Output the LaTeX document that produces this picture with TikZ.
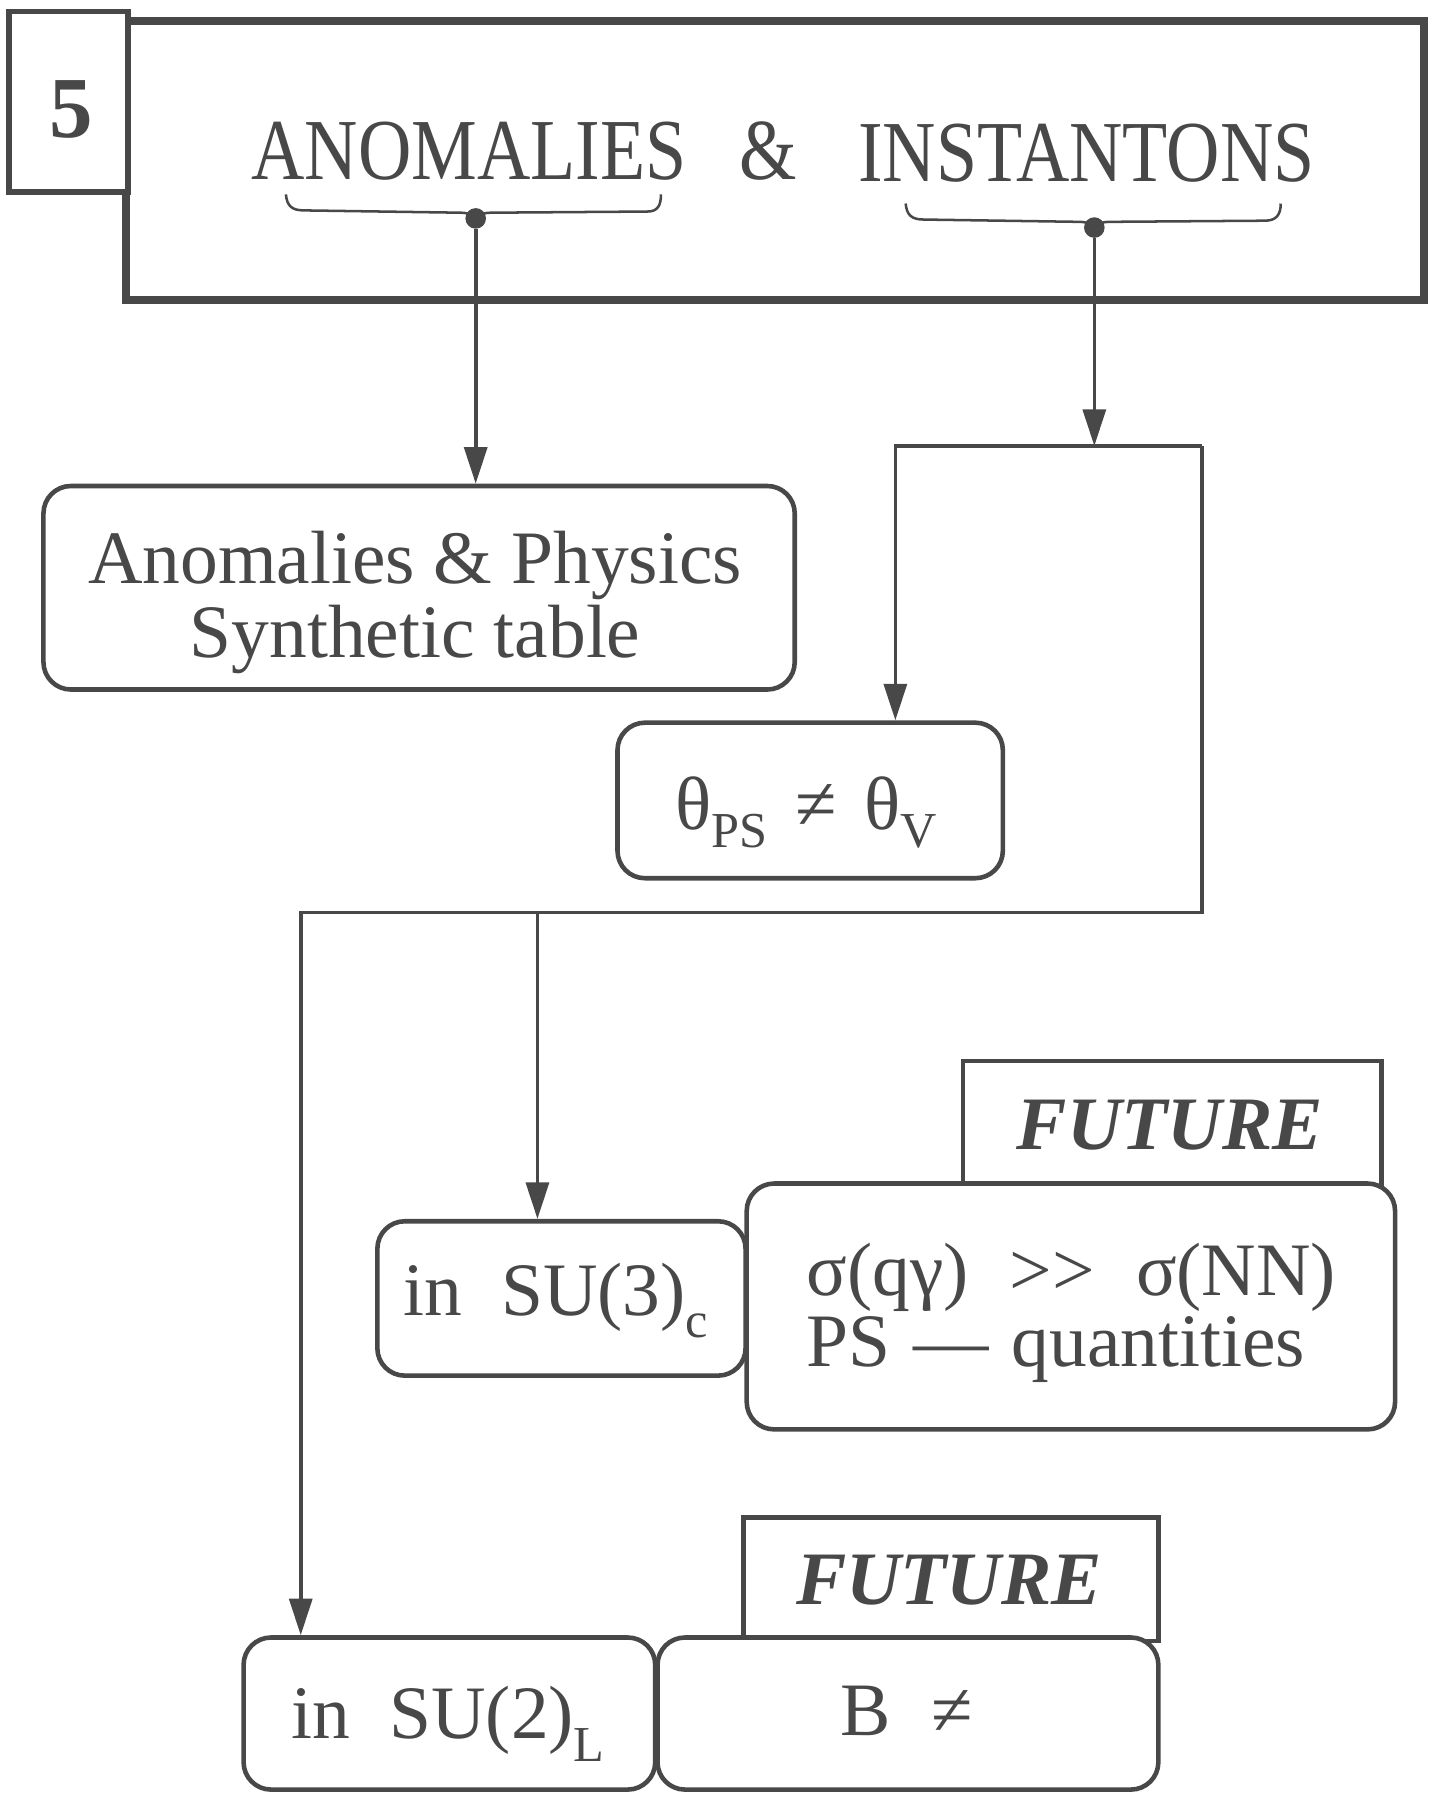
\documentclass[tikz,border=0pt]{standalone}
\usepackage{fontspec}
\setmainfont{Liberation Serif}
\usetikzlibrary{arrows.meta}
\definecolor{ink}{RGB}{72,72,72}
% lowered, smaller subscript text
\newcommand\lowtext[2][10pt]{\raisebox{-#1}{\fontsize{22}{22}\selectfont #2}}
\begin{document}
\begin{tikzpicture}[x=0.5pt,y=-0.5pt,
  rbox/.style={draw=ink, line width=2pt, rounded corners=12pt, fill=white, inner sep=0pt},
  sbox/.style={draw=ink, line width=2pt, fill=white, inner sep=0pt},
  conn/.style={draw=ink, line width=1.6pt},
  arr/.style={conn, -{Triangle[length=16pt,width=10pt]}},
  brace/.style={draw=ink, line width=1.1pt},
  dot/.style={circle, fill=ink, inner sep=0pt, minimum size=9pt},
  txt/.style={text=ink, font=\fontsize{33}{38}\selectfont, anchor=base, inner sep=0pt},
  ttl/.style={text=ink, font=\fontsize{38}{40}\selectfont, anchor=base, inner sep=0pt},
  fut/.style={text=ink, font=\fontsize{33}{38}\selectfont\bfseries\itshape, anchor=base, inner sep=0pt},
]
\useasboundingbox (0,0) rectangle (1254,1568);

% heading block
\node[sbox, line width=3.5pt, minimum width=567.5pt, minimum height=122pt] (title) at (677.5,140) {};
\node[sbox, line width=2.5pt, minimum width=52pt, minimum height=79pt] (num) at (60,89) {};
\node[ttl, font=\fontsize{38}{40}\selectfont\bfseries] (numtxt) at (62,120) {5};
\node[ttl] (tanom) at (410,157) {\scalebox{0.85}[1]{ANOMALIES}};
\node[ttl] (tamp) at (672,157) {\scalebox{0.85}[1]{\&}};
\node[ttl] (tinst) at (950,159) {\scalebox{0.85}[1]{INSTANTONS}};

% braces with their dots
\draw[brace] (250,170) .. controls (251,180) and (255,184) .. (266,184) -- (402,186)
  .. controls (410,186) and (414,188) .. (416,191)
  .. controls (418,188) and (422,186) .. (430,186) -- (566,185)
  .. controls (575,185) and (578,180) .. (578,170);
\draw[brace] (792,178) .. controls (793,188) and (797,192) .. (808,192) -- (943,194)
  .. controls (951,194) and (955,196) .. (957,199)
  .. controls (959,196) and (963,194) .. (971,194) -- (1106,193)
  .. controls (1116,193) and (1120,188) .. (1120,178);
\node[dot] (d1) at (416,191) {};
\node[dot] (d2) at (957,199) {};

% boxes
\node[rbox, minimum width=328.5pt, minimum height=89pt] (anom) at (366.5,514) {};
\node[rbox, minimum width=168.5pt, minimum height=68pt] (theta) at (708.5,700) {};
\node[sbox, minimum width=183pt, minimum height=56pt] (fut1) at (1025,984) {};
\node[rbox, minimum width=161pt, minimum height=67.5pt] (su3) at (491,1135.5) {};
\node[rbox, minimum width=283.5pt, minimum height=107.5pt] (sigma) at (936.5,1142.5) {};
\node[sbox, minimum width=181.5pt, minimum height=54pt] (fut2) at (831.5,1381) {};
\node[rbox, minimum width=180pt, minimum height=66.5pt] (su2) at (393,1498.5) {};
\node[rbox, minimum width=219pt, minimum height=66.5pt] (bneq) at (794,1498.5) {};

% box texts
\node[txt] (anom1) at (363,510) {Anomalies \& Physics};
\node[txt] (anom2) at (363,575) {Synthetic table};
\node[txt] (thetatxt) at (705,725) {θ\lowtext[8pt]{PS}\hspace{12pt}≠\hspace{12pt}θ\lowtext[8pt]{V}};
\node[fut] (fut1txt) at (1023,1005) {FUTURE};
\node[txt] (su3txt) at (486,1150) {in\hspace{17pt}SU(3)\lowtext{c}};
\node[txt, anchor=base west] (sig1) at (705,1133) {σ(qγ)\hspace{18pt}>{}>\hspace{18pt}σ(NN)};
\node[txt, anchor=base west] (sig2) at (705,1195) {PS\hspace{10pt}—\hspace{10pt}quantities};
\node[fut] (fut2txt) at (830,1403) {FUTURE};
\node[txt] (su2txt) at (392,1520) {in\hspace{17pt}SU(2)\lowtext{L}};
\node[txt] (bneqtxt) at (793,1518) {B\hspace{18pt}≠};

% connectors
\coordinate (tl) at (783,390);
\coordinate (tr) at (1051,390);
\coordinate (br) at (1051,798);
\coordinate (bl) at (263,798);
\coordinate (bm) at (470,798);
\draw[arr] (d1) -- (d1 |- anom.north);
\draw[arr] (d2) -- (d2 |- tl);
\draw[arr] (tr) -- (tl) -- (tl |- theta.north);
\draw[arr] (tr) -- (br) -- (bl) -- (bl |- su2.north);
\draw[arr] (bm) -- (bm |- su3.north);
\end{tikzpicture}
\end{document}
